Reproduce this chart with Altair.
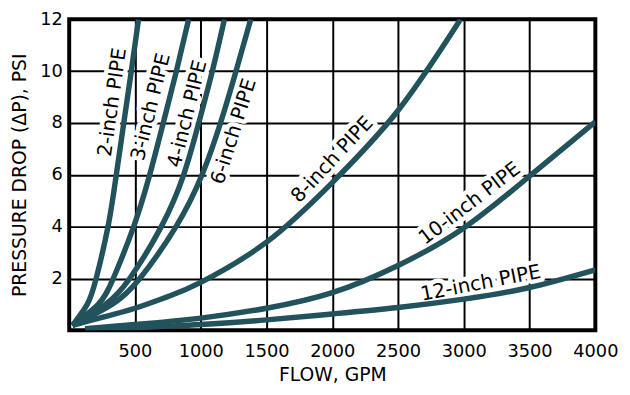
import altair as alt
import pandas as pd

# ---- data ----
psi_levels = [0.19, 1, 2, 4, 6, 8, 10, 12]
flow_2in = [25, 137, 205, 295, 358, 415, 472, 527]
flow_3in = [25, 220, 335, 490, 612, 715, 815, 908]
flow_4in = [25, 275, 460, 700, 870, 985, 1088, 1180]
flow_6in = [25, 325, 537, 812, 1010, 1150, 1268, 1380]

flow_8in = [25, 250, 500, 750, 1000, 1500, 2000, 2500, 2975]
psi_8in = [0.19, 0.5, 0.85, 1.3, 1.85, 3.4, 5.7, 8.48, 12.0]

flow_10in = [120, 500, 1000, 1500, 2000, 2500, 3000, 3500, 4000]
psi_10in = [0.06, 0.22, 0.47, 0.85, 1.45, 2.5, 3.95, 5.95, 8.05]

flow_12in = [130, 500, 1000, 1500, 2000, 2500, 3000, 3500, 4000]
psi_12in = [0.02, 0.1, 0.22, 0.4, 0.63, 0.88, 1.2, 1.65, 2.33]

label_text = ["2-inch PIPE", "3-inch PIPE", "4-inch PIPE", "6-inch PIPE",
              "8-inch PIPE", "10-inch PIPE", "12-inch PIPE"]
label_flow = [330, 622, 900, 1252, 2000, 3045, 3128]
label_psi = [8.80, 8.62, 8.35, 7.67, 6.58, 4.89, 1.81]
label_angle = [278, 284, 284, 287.5, 313, 322.5, 349]

x_ticks = [500, 1000, 1500, 2000, 2500, 3000, 3500, 4000]
y_ticks = [2, 4, 6, 8, 10, 12]

# ---- build tables ----
series = [
    ("2-inch", flow_2in, psi_levels),
    ("3-inch", flow_3in, psi_levels),
    ("4-inch", flow_4in, psi_levels),
    ("6-inch", flow_6in, psi_levels),
    ("8-inch", flow_8in, psi_8in),
    ("10-inch", flow_10in, psi_10in),
    ("12-inch", flow_12in, psi_12in),
]
rows = []
for name, xs, ys in series:
    for xv, yv in zip(xs, ys):
        rows.append({"pipe": name, "flow": xv, "psi": yv})
curves = pd.DataFrame(rows)

labels = pd.DataFrame({"text": label_text, "flow": label_flow,
                       "psi": label_psi, "angle": label_angle})

FONT = "DejaVu Sans"
TEAL = "#22525b"

x_enc = alt.X("flow:Q", scale=alt.Scale(domain=[0, 4000], nice=False),
              axis=alt.Axis(values=x_ticks, format="d", labelOverlap=False,
                            labelFlush=False, title="FLOW, GPM",
                            labelPadding=13, titlePadding=5))
y_enc = alt.Y("psi:Q", scale=alt.Scale(domain=[0, 12], nice=False),
              axis=alt.Axis(values=y_ticks, format="d", labelOverlap=False,
                            labelFlush=False,
                            title="PRESSURE DROP (\u0394P), PSI",
                            labelPadding=7, titlePadding=10))

lines = alt.Chart(curves).mark_line(
    color=TEAL, strokeWidth=5.5, interpolate="natural", clip=True
).encode(x=x_enc, y=y_enc, detail="pipe:N")

halo = alt.Chart(labels).mark_text(
    font=FONT, fontSize=20, color="white", stroke="white", strokeWidth=9,
    strokeJoin="round", align="center", baseline="middle"
).encode(x="flow:Q", y="psi:Q", text="text:N",
         angle=alt.Angle("angle:Q", scale=None))

text = alt.Chart(labels).mark_text(
    font=FONT, fontSize=20, color="black", align="center", baseline="middle"
).encode(x="flow:Q", y="psi:Q", text="text:N",
         angle=alt.Angle("angle:Q", scale=None))

chart = alt.layer(halo, lines, text).properties(
    width=533, height=315,
    autosize=alt.AutoSizeParams(type="none"),
    padding={"left": 62, "top": 9, "right": 27, "bottom": 55},
).configure_view(
    stroke="black", strokeWidth=4
).configure_axis(
    grid=True, gridColor="black", gridWidth=2, gridOpacity=1,
    domain=False, ticks=False, tickSize=0,
    labelFont=FONT, labelFontSize=18, labelColor="black",
    titleFont=FONT, titleFontSize=19, titleFontWeight="normal", titleColor="black",
)

chart.save("out.html", embed_options={"renderer": "svg", "actions": False})
